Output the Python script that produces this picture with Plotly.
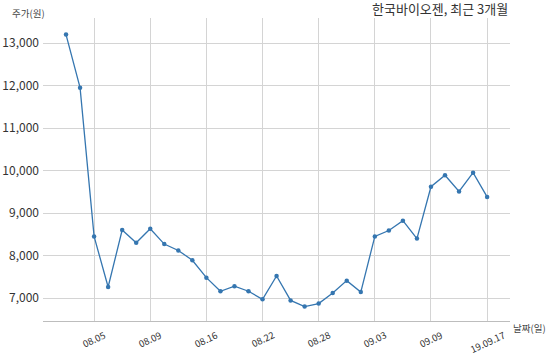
import plotly.graph_objects as go

dates = ["08.01", "08.02", "08.05", "08.06", "08.07", "08.08", "08.09", "08.12", "08.13", "08.14",
         "08.16", "08.19", "08.20", "08.21", "08.22", "08.23", "08.26", "08.27", "08.28", "08.29",
         "08.30", "09.02", "09.03", "09.04", "09.05", "09.06", "09.09", "09.10", "09.11", "09.16",
         "09.17"]
prices = [13200, 11950, 8450, 7260, 8600, 8300, 8630, 8270, 8120, 7890,
          7480, 7160, 7280, 7160, 6970, 7520, 6945, 6800, 6870, 7120,
          7410, 7140, 8450, 8590, 8820, 8400, 9620, 9890, 9510, 9950,
          9380]
tick_dates = ["08.05", "08.09", "08.16", "08.22", "08.28", "09.03", "09.09", "09.17"]
tick_text = ["08.05", "08.09", "08.16", "08.22", "08.28", "09.03", "09.09", "19.09.17"]
y_ticks = [7000, 8000, 9000, 10000, 11000, 12000, 13000]

xs = list(range(len(dates)))
tick_pos = [dates.index(d) for d in tick_dates]

FONT = "Noto Sans CJK KR"
LINE = "#3576b0"

fig = go.Figure()
fig.add_trace(go.Scatter(
    x=xs, y=prices, mode="lines+markers",
    line=dict(color=LINE, width=1.3),
    marker=dict(color=LINE, size=4.5),
    text=dates, hoverinfo="text+y",
))

annotations = [
    dict(text="한국바이오젠, 최근 3개월", xref="paper", yref="paper",
         x=1.0, y=1.0, xanchor="right", yanchor="bottom", yshift=-2,
         showarrow=False, font=dict(size=13, color="#333333", family=FONT)),
    dict(text="주가(원)", xref="paper", yref="paper",
         x=0, y=1.0, xanchor="right", yanchor="bottom", xshift=4, yshift=-4,
         showarrow=False, font=dict(size=9.5, color="#444444", family=FONT)),
    dict(text="날짜(일)", xref="paper", yref="paper",
         x=1.0, y=0, xanchor="left", yanchor="middle", xshift=1, yshift=-7,
         showarrow=False, font=dict(size=9.5, color="#444444", family=FONT)),
]
for pos, txt in zip(tick_pos, tick_text):
    annotations.append(dict(
        text=txt, x=pos, y=0, xref="x", yref="paper",
        xanchor="center", yanchor="top", yshift=-4, textangle=-25,
        showarrow=False, font=dict(size=9.5, color="#333333", family=FONT),
    ))

fig.update_layout(
    width=550, height=356,
    margin=dict(l=43, r=40, t=18, b=35, autoexpand=False),
    paper_bgcolor="white", plot_bgcolor="white",
    showlegend=False,
    font=dict(family=FONT, color="#333333"),
    xaxis=dict(
        range=[-1.64, 31.63], autorange=False,
        tickmode="array", tickvals=tick_pos, showticklabels=False,
        showgrid=True, gridcolor="#d4d4d4", gridwidth=1,
        showline=True, linecolor="#bdbdbd", linewidth=1,
        ticks="", zeroline=False, automargin=False,
    ),
    yaxis=dict(
        range=[6460, 13590], autorange=False,
        tickmode="array", tickvals=y_ticks,
        tickformat=",d",
        tickfont=dict(size=12, color="#333333"),
        showgrid=True, gridcolor="#d4d4d4", gridwidth=1,
        showline=False, ticks="", zeroline=False,
        ticklabelstandoff=3, automargin=False,
    ),
    annotations=annotations,
)

fig.write_html("out.html")
